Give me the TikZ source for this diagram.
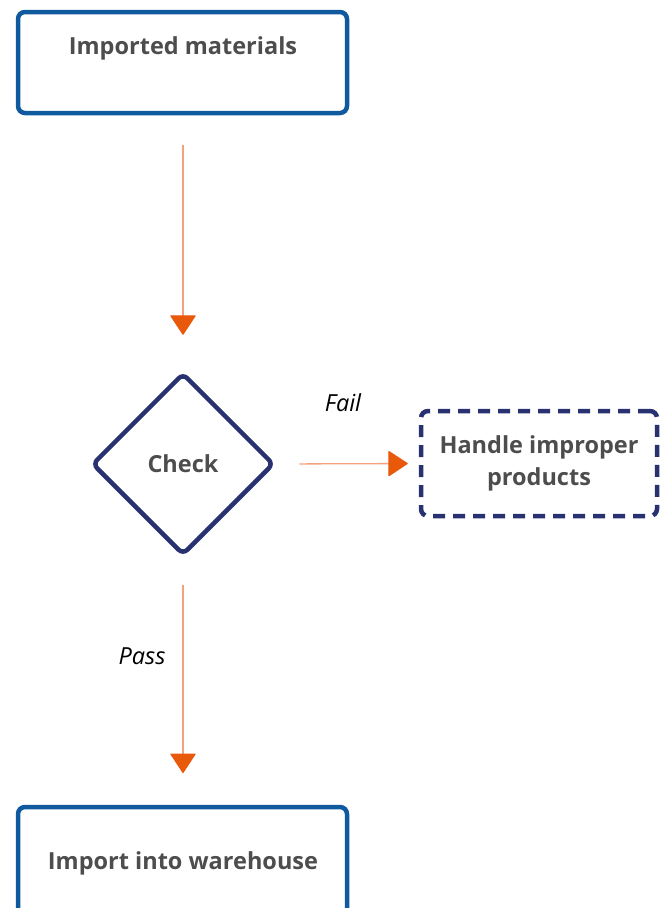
\documentclass[tikz,border=0pt]{standalone}
\usepackage{fontspec}
\setmainfont{Open Sans}
\usetikzlibrary{shapes.geometric,arrows.meta}
\definecolor{boxblue}{HTML}{0F5A9E}
\definecolor{navy}{HTML}{283270}
\definecolor{txtgray}{HTML}{4D4D4D}
\definecolor{lineorange}{HTML}{F4A27E}
\definecolor{tiporange}{HTML}{E8590C}
\begin{document}
\begin{tikzpicture}[x=1pt, y=-1pt,
  stepbox/.style={draw=boxblue, line width=4.5pt, rounded corners=7pt},
  steptext/.style={text=txtgray, font=\fontsize{23.5}{28}\selectfont\bfseries},
  checkbox/.style={draw=navy, shape=diamond, line width=4.5pt, rounded corners=6pt, minimum width=182pt, minimum height=182pt, inner sep=0pt, text=txtgray, font=\fontsize{23.5}{28}\selectfont\bfseries},
  failbox/.style={draw=navy, dashed, dash pattern=on 12pt off 8pt, line width=4.5pt, rounded corners=7pt, text=txtgray, align=center, font=\fontsize{23.5}{32}\selectfont\bfseries},
  flow/.style={draw=lineorange, line width=1.3pt, -{Triangle[length=20pt, width=26pt, fill=tiporange, color=tiporange, round]}},
  edgelabel/.style={text=black, font=\fontsize{23.5}{28}\selectfont\itshape}]
% Page frame
\useasboundingbox (0,0) rectangle (659,908);

% Boxes
\draw[stepbox] (18,12) rectangle (347,113);
\node[steptext] (imported) at (183,48) {Imported materials};
\coordinate (importedbot) at (183,113);
\node[checkbox] (check) at (183,464) {Check};
\node[failbox, minimum width=236pt, minimum height=105pt] (handle) at (539,463.5) {Handle improper\\products};
\draw[stepbox] (18,807) rectangle (347,940);
\node[steptext] (warehouse) at (183,863) {Import into warehouse};
\coordinate (warehousetop) at (183,807);

% Arrows
\draw[flow, shorten <=32pt, shorten >=36pt] (importedbot) -- (check.north);
\draw[flow, shorten <=23pt, shorten >=11pt] (check.east) -- (handle.west);
\draw[flow, shorten <=28pt, shorten >=34pt] (check.south) -- (warehousetop);

% Labels
\node[edgelabel] (fail) at (343,403) {Fail};
\node[edgelabel] (pass) at (142,656) {Pass};
\end{tikzpicture}
\end{document}
